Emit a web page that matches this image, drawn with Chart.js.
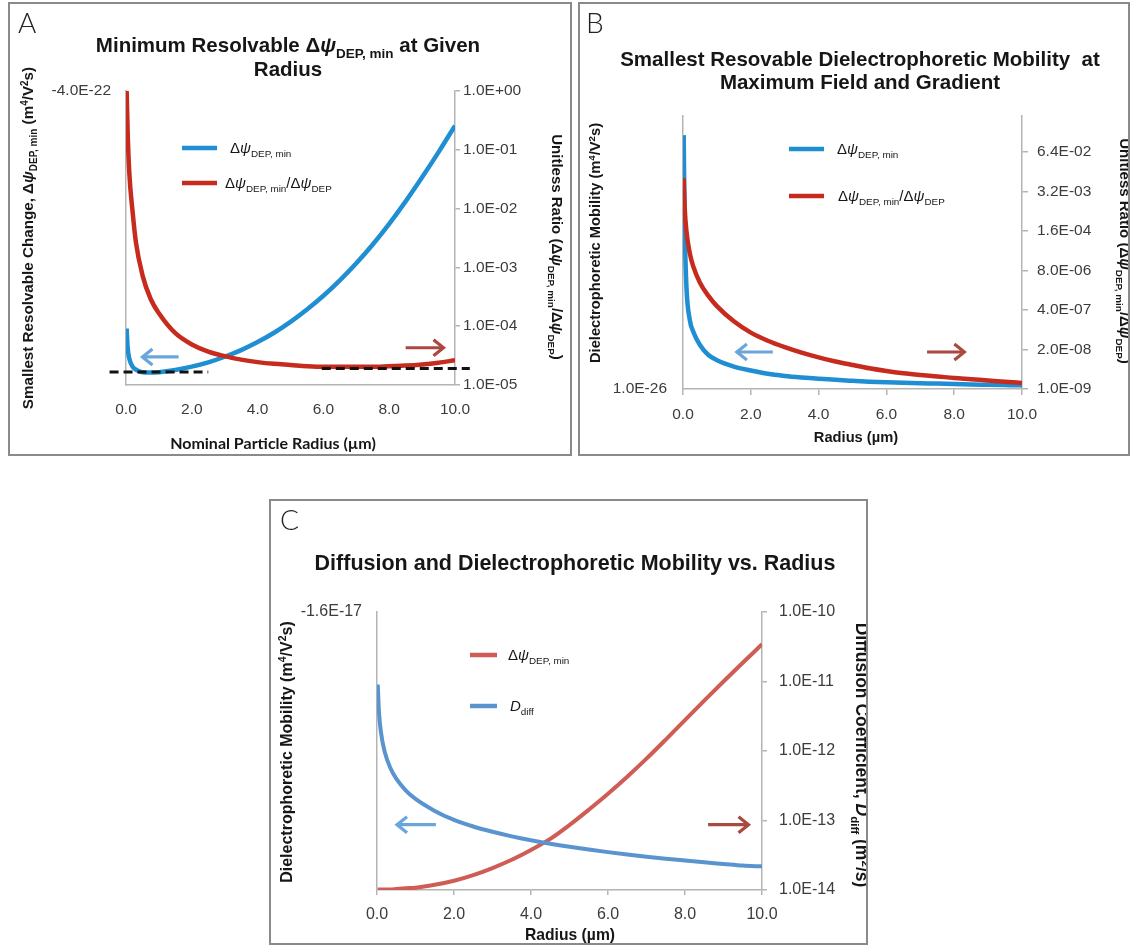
<!DOCTYPE html>
<html>
<head>
<meta charset="utf-8">
<title>DEP mobility vs radius</title>
<script src="https://cdn.jsdelivr.net/npm/chart.js@4.4.1/dist/chart.umd.min.js"></script>
<style>
  body { margin: 0; background: #fff; }
  #page { position: relative; width: 1132px; height: 947px; overflow: hidden; background: #fff; }
  .frame { position: absolute; border: 2px solid #8a8a8a; box-sizing: border-box; }
  canvas { position: absolute; }
</style>
</head>
<body>
<div id="page">
  <div class="frame" style="left:8px;top:2px;width:564px;height:454px"></div>
  <div class="frame" style="left:578px;top:2px;width:552px;height:454px"></div>
  <div class="frame" style="left:269px;top:499px;width:599px;height:446px"></div>
  <canvas id="panelA" width="560" height="450" style="left:10px;top:4px"></canvas>
  <canvas id="panelB" width="548" height="450" style="left:580px;top:4px"></canvas>
  <canvas id="panelC" width="595" height="442" style="left:271px;top:501px"></canvas>
</div>
<script>
// ---- data (radius in µm) ----
const radiusTicks = [0, 2, 4, 6, 8, 10];

// A: minimum resolvable change and its ratio to the DEP mobility
const radiusA = [0.02, 0.05, 0.1, 0.2, 0.3, 0.5, 0.75, 1, 1.5, 2, 2.5, 3, 3.5, 4, 4.5, 5, 5.5, 6, 6.5, 7, 7.5, 8, 8.5, 9, 9.5, 10];
const dMuMinA = [3.65e-26, 1.75e-26, 1.13e-26, 8.2e-27, 7.3e-27, 6.6e-27, 6.5e-27, 6.6e-27, 7.2e-27, 8.2e-27, 9.7e-27, 1.21e-26, 1.57e-26,
                 2.15e-26, 3.10e-26, 4.75e-26, 7.7e-26, 1.32e-25, 2.41e-25, 4.7e-25, 9.8e-25, 2.2e-24, 5.3e-24, 1.36e-23, 3.65e-23, 1.03e-22];
const ratioA = [1.0, 2.0e-1, 4.1e-2, 8.9e-3, 2.7e-3, 7.4e-4, 2.9e-4, 1.66e-4, 7.6e-5, 4.9e-5, 3.7e-5, 3.1e-5, 2.7e-5,
                2.45e-5, 2.29e-5, 2.19e-5, 2.09e-5, 2.04e-5, 2.04e-5, 2.04e-5, 2.04e-5, 2.09e-5, 2.14e-5, 2.24e-5, 2.40e-5, 2.63e-5];
const floorLeftA = [{ x: -0.5, y: 1.66e-5 }, { x: 2.5, y: 1.66e-5 }];
const floorRightA = [{ x: 5.95, y: 1.9e-5 }, { x: 10.45, y: 1.9e-5 }];
const leftTicksA = [4.0e-22];
const leftLabelsA = ['-4.0E-22'];
const rightTicksA = [1, 1e-1, 1e-2, 1e-3, 1e-4, 1e-5];

// B: at maximum field and gradient
const radiusB = [0.02, 0.05, 0.1, 0.2, 0.3, 0.5, 0.75, 1, 1.5, 2, 2.5, 3, 3.5, 4, 4.5, 5, 5.5, 6, 6.5, 7, 7.5, 8, 8.5, 9, 9.5, 10];
const dMuMinB = [2.34e-18, 2.51e-21, 2.51e-23, 1.91e-24, 7.9e-25, 2.82e-25, 1.32e-25, 8.9e-26, 5.5e-26, 4.07e-26, 3.16e-26, 2.69e-26, 2.40e-26,
                 2.19e-26, 2.0e-26, 1.86e-26, 1.74e-26, 1.66e-26, 1.62e-26, 1.55e-26, 1.51e-26, 1.45e-26, 1.41e-26, 1.38e-26, 1.35e-26, 1.32e-26];
const ratioB = [8.9e-3, 9.3e-4, 1.66e-4, 3.0e-5, 1.12e-5, 3.2e-6, 1.17e-6, 5.4e-7, 1.70e-7, 7.2e-8, 3.9e-8, 2.4e-8, 1.58e-8,
                1.10e-8, 8.1e-9, 6.2e-9, 4.8e-9, 3.9e-9, 3.3e-9, 2.9e-9, 2.6e-9, 2.3e-9, 2.1e-9, 1.9e-9, 1.74e-9, 1.58e-9];
const leftTicksB = [1.0e-26];
const leftLabelsB = ['1.0E-26'];
const rightTicksB = [6.4e-2, 3.2e-3, 1.6e-4, 8.0e-6, 4.0e-7, 2.0e-8, 1.0e-9];

// C: diffusion coefficient and DEP mobility
const radiusC = [0.02, 0.05, 0.1, 0.2, 0.35, 0.5, 0.75, 1, 1.5, 2, 2.5, 3, 3.5, 4, 4.5, 5, 5.5, 6, 6.5, 7, 7.5, 8, 8.5, 9, 9.5, 10];
const dMuMinC = [1.02e-14, 1.02e-14, 1.02e-14, 1.02e-14, 1.02e-14, 1.035e-14, 1.06e-14, 1.08e-14, 1.19e-14, 1.36e-14, 1.64e-14, 2.07e-14, 2.72e-14,
                 3.76e-14, 5.43e-14, 8.61e-14, 1.43e-13, 2.43e-13, 4.27e-13, 7.76e-13, 1.46e-12, 2.79e-12, 5.31e-12, 1.0e-11, 1.86e-11, 3.43e-11];
const dDiffC = [1.45e-18, 5.97e-19, 3.05e-19, 1.56e-19, 9.04e-20, 6.40e-20, 4.32e-20, 3.27e-20, 2.20e-20, 1.63e-20, 1.31e-20, 1.10e-20, 9.47e-21,
                8.32e-21, 7.42e-21, 6.70e-21, 6.11e-21, 5.61e-21, 5.19e-21, 4.83e-21, 4.52e-21, 4.25e-21, 4.00e-21, 3.79e-21, 3.59e-21, 3.50e-21];
const leftTicksC = [1.6e-17];
const leftLabelsC = ['-1.6E-17'];
const rightTicksC = [1e-10, 1e-11, 1e-12, 1e-13, 1e-14];

// ---- styling ----
const FONT = '"Liberation Sans", Arial, Helvetica, sans-serif';
const AXIS = '#b4b4b4';
const TICK_TXT = '#3c3c3c';
const BLUE = '#1f8ed2', RED = '#c62b1e';
const BLUE_C = '#5a94cf', RED_C = '#cf5c55';
const ARROW_BLUE = '#6aa5dc', ARROW_RED = '#a9493f';

function fmtE(v) {
  const [m, e] = v.toExponential(1).split('e');
  const n = parseInt(e, 10);
  return m + 'E' + (n < 0 ? '-' : '+') + String(Math.abs(n)).padStart(2, '0');
}
const pts = (xs, ys) => xs.map((x, i) => ({ x, y: ys[i] }));

// text runs: [text, style]; style letters b = bold, i = italic, _ = subscript, ^ = superscript
function drawRich(ctx, parts, x, y, size, align, rot, family) {
  const fam = family || FONT;
  const runs = parts.map(([t, st = '']) => {
    const sz = /[_^]/.test(st) ? size * 0.66 : size;
    const font = (st.includes('i') ? 'italic ' : '') + (st.includes('b') ? 'bold ' : '') + sz.toFixed(1) + 'px ' + fam;
    ctx.font = font;
    return { t, st, font, w: ctx.measureText(t).width };
  });
  const total = runs.reduce((s, r) => s + r.w, 0);
  ctx.save();
  ctx.translate(x, y);
  if (rot) ctx.rotate(rot);
  ctx.fillStyle = '#161616';
  ctx.textBaseline = 'alphabetic';
  let cx = align === 'center' ? -total / 2 : 0;
  runs.forEach(r => {
    ctx.font = r.font;
    const dy = r.st.includes('_') ? size * 0.26 : r.st.includes('^') ? -size * 0.38 : 0;
    ctx.fillText(r.t, cx, size * 0.36 + dy);
    cx += r.w;
  });
  ctx.restore();
}

function drawArrow(ctx, x0, x1, y, color) {
  const dir = Math.sign(x1 - x0);
  ctx.save();
  ctx.strokeStyle = color;
  ctx.lineWidth = 3.2;
  ctx.beginPath(); ctx.moveTo(x0, y); ctx.lineTo(x1 - dir * 1.5, y); ctx.stroke();
  ctx.beginPath(); ctx.moveTo(x1 - dir * 10, y - 8); ctx.lineTo(x1, y); ctx.lineTo(x1 - dir * 10, y + 8); ctx.stroke();
  ctx.restore();
}

// titles, axis titles, legend and direction arrows
const decor = {
  id: 'decor',
  afterDraw(chart, args, o) {
    const ctx = chart.ctx;
    ctx.save();
    ctx.font = '300 28px Lato, ' + FONT;
    ctx.fillStyle = '#222';
    ctx.fillText(o.letter, o.letterAt[0], o.letterAt[1]);
    ctx.restore();
    o.texts.forEach(t => drawRich(ctx, t.parts, t.x, t.y, t.size, t.align || 'center', t.rot || 0, t.family));
    o.legend.forEach(l => {
      ctx.save();
      ctx.strokeStyle = l.color; ctx.lineWidth = 4.5;
      ctx.beginPath(); ctx.moveTo(l.x0, l.y); ctx.lineTo(l.x1, l.y); ctx.stroke();
      ctx.restore();
      drawRich(ctx, l.parts, l.tx, l.y, 15, 'left', 0);
    });
    const xs = chart.scales.x;
    o.arrows.forEach(a => {
      const ys = chart.scales[a.axis];
      drawArrow(ctx, xs.getPixelForValue(a.from), xs.getPixelForValue(a.to), ys.getPixelForValue(a.y), a.color);
    });
  }
};

function xAxis(height, tick, pad, fs) {
  return {
    type: 'linear', min: 0, max: 10,
    afterBuildTicks: s => { s.ticks = radiusTicks.map(v => ({ value: v })); },
    afterFit: s => { s.height = height; },
    ticks: { maxRotation: 0, autoSkip: false, padding: pad, color: TICK_TXT, font: { size: fs, family: FONT }, callback: v => v.toFixed(1) },
    grid: { drawOnChartArea: false, drawTicks: tick > 0, tickLength: tick, color: AXIS, lineWidth: 1.5 },
    border: { color: AXIS, width: 1.5 }
  };
}

function yAxis(position, min, max, tickVals, labels, width, tick, pad, fs) {
  return {
    type: 'logarithmic', position, min, max,
    afterBuildTicks: s => { s.ticks = tickVals.map(v => ({ value: v })); },
    afterFit: s => { s.width = width; },
    ticks: { autoSkip: false, padding: pad, color: TICK_TXT, font: { size: fs, family: FONT },
             callback: (v, i) => labels ? labels[i] : fmtE(v) },
    grid: { drawOnChartArea: false, drawTicks: tick > 0, tickLength: tick, color: AXIS, lineWidth: 1.5 },
    border: { color: AXIS, width: 1.5 }
  };
}

function curve(data, color, axis, width) {
  return { data, yAxisID: axis, borderColor: color, borderWidth: width, pointRadius: 0,
           cubicInterpolationMode: 'monotone', fill: false };
}

function makePanel(id, top, scales, datasets, deco) {
  return new Chart(document.getElementById(id), {
    type: 'line',
    data: { datasets },
    options: {
      responsive: false, animation: false, devicePixelRatio: 1,
      parsing: false, normalized: true,
      layout: { padding: { top, left: 0, right: 0, bottom: 0 } },
      plugins: { legend: { display: false }, tooltip: { enabled: false }, decor: deco },
      scales
    },
    plugins: [decor]
  });
}

const dPsiMin = [['Δ', ''], ['ψ', 'i'], ['DEP, min', '_']];
const dPsiRatio = [['Δ', ''], ['ψ', 'i'], ['DEP, min', '_'], ['/Δ', ''], ['ψ', 'i'], ['DEP', '_']];
const ratioTitle = [['Unitless Ratio (Δ', 'b'], ['ψ', 'bi'], ['DEP, min', 'b_'], ['/Δ', 'b'], ['ψ', 'bi'], ['DEP', 'b_'], [')', 'b']];
const mobilityTitle = [['Dielectrophoretic Mobility (m', 'b'], ['4', 'b^'], ['/V', 'b'], ['2', 'b^'], ['s)', 'b']];

// ---- panel A ----
makePanel('panelA', 87, {
  x: xAxis(69, 0, 15, 15.5),
  yL: yAxis('left', 4.0e-27, 4.0e-22, leftTicksA, leftLabelsA, 116, 0, 15, 15.5),
  yR: yAxis('right', 1e-5, 1, rightTicksA, null, 115, 5, 3, 15.5)
}, [
  Object.assign(curve(floorLeftA, '#111', 'yR', 3), { borderDash: [9, 5], clip: false }),
  Object.assign(curve(floorRightA, '#111', 'yR', 3), { borderDash: [9, 5], clip: false }),
  curve(pts(radiusA, ratioA), RED, 'yR', 4.5),
  curve(pts(radiusA, dMuMinA), BLUE, 'yL', 4.5)
], {
  letter: 'A', letterAt: [8, 29],
  texts: [
    { parts: [['Minimum Resolvable Δ', 'b'], ['ψ', 'bi'], ['DEP, min', 'b_'], [' at Given', 'b']], x: 278, y: 41, size: 20.5 },
    { parts: [['Radius', 'b']], x: 278, y: 65, size: 20.5 },
    { parts: [['Nominal Particle Radius (µm)', 'b']], x: 263, y: 439, size: 16, family: 'Lato, ' + FONT },
    { parts: [['Smallest Resolvable Change, Δ', 'b'], ['ψ', 'bi'], ['DEP, min', 'b_'], [' (m', 'b'], ['4', 'b^'], ['/V', 'b'], ['2', 'b^'], ['s)', 'b']],
      x: 18, y: 234, size: 15.2, rot: -Math.PI / 2 },
    { parts: ratioTitle, x: 547, y: 243, size: 15, rot: Math.PI / 2 }
  ],
  legend: [
    { color: BLUE, x0: 172, x1: 207, y: 144, tx: 220, parts: dPsiMin },
    { color: RED, x0: 172, x1: 207, y: 179, tx: 215, parts: dPsiRatio }
  ],
  arrows: [
    { from: 1.6, to: 0.5, y: 3.0e-5, axis: 'yR', color: ARROW_BLUE },
    { from: 8.5, to: 9.65, y: 4.3e-5, axis: 'yR', color: ARROW_RED }
  ]
});

// ---- panel B ----
makePanel('panelB', 112, {
  x: xAxis(65, 6, 10, 15.5),
  yL: yAxis('left', 1e-26, 1e-17, leftTicksB, leftLabelsB, 103, 0, 16, 15.5),
  yR: yAxis('right', 1e-9, 1, rightTicksB, null, 106, 6, 9, 15.5)
}, [
  curve(pts(radiusB, ratioB), RED, 'yR', 4.5),
  curve(pts(radiusB, dMuMinB), BLUE, 'yL', 4.5)
], {
  letter: 'B', letterAt: [6, 29],
  texts: [
    { parts: [['Smallest Resovable Dielectrophoretic Mobility  at', 'b']], x: 280, y: 55, size: 20.5 },
    { parts: [['Maximum Field and Gradient', 'b']], x: 280, y: 78, size: 20.5 },
    { parts: [['Radius (µm)', 'b']], x: 276, y: 433, size: 14.7 },
    { parts: mobilityTitle, x: 15, y: 239, size: 14.7, rot: -Math.PI / 2 },
    { parts: ratioTitle, x: 545, y: 247, size: 15, rot: Math.PI / 2 }
  ],
  legend: [
    { color: BLUE, x0: 209, x1: 244, y: 145, tx: 257, parts: dPsiMin },
    { color: RED, x0: 209, x1: 244, y: 192, tx: 258, parts: dPsiRatio }
  ],
  arrows: [
    { from: 2.65, to: 1.59, y: 1.66e-8, axis: 'yR', color: ARROW_BLUE },
    { from: 7.2, to: 8.3, y: 1.66e-8, axis: 'yR', color: ARROW_RED }
  ]
});

// ---- panel C ----
makePanel('panelC', 111, {
  x: xAxis(53, 5, 10, 16),
  yL: yAxis('left', 1.6e-21, 1.6e-17, leftTicksC, leftLabelsC, 106, 0, 15, 16),
  yR: yAxis('right', 1e-14, 1e-10, rightTicksC, null, 104, 5, 12, 16)
}, [
  curve(pts(radiusC, dDiffC), BLUE_C, 'yL', 4),
  curve(pts(radiusC, dMuMinC), RED_C, 'yR', 4)
], {
  letter: 'C', letterAt: [9, 29],
  texts: [
    { parts: [['Diffusion and Dielectrophoretic Mobility vs. Radius', 'b']], x: 304, y: 61, size: 21.5 },
    { parts: [['Radius (µm)', 'b']], x: 299, y: 433, size: 15.7 },
    { parts: mobilityTitle, x: 15, y: 251, size: 16, rot: -Math.PI / 2 },
    { parts: [['Diffusion Coefficient, ', 'b'], ['D', 'bi'], ['diff', 'b_'], [' (m', 'b'], ['2', 'b^'], ['/s)', 'b']],
      x: 591, y: 254, size: 17.5, rot: Math.PI / 2 }
  ],
  legend: [
    { color: RED_C, x0: 199, x1: 226, y: 154, tx: 237, parts: dPsiMin },
    { color: BLUE_C, x0: 199, x1: 226, y: 205, tx: 239, parts: [['D', 'i'], ['diff', '_']] }
  ],
  arrows: [
    { from: 1.53, to: 0.52, y: 8.7e-14, axis: 'yR', color: ARROW_BLUE },
    { from: 8.6, to: 9.65, y: 8.7e-14, axis: 'yR', color: ARROW_RED }
  ]
});
</script>
</body>
</html>
